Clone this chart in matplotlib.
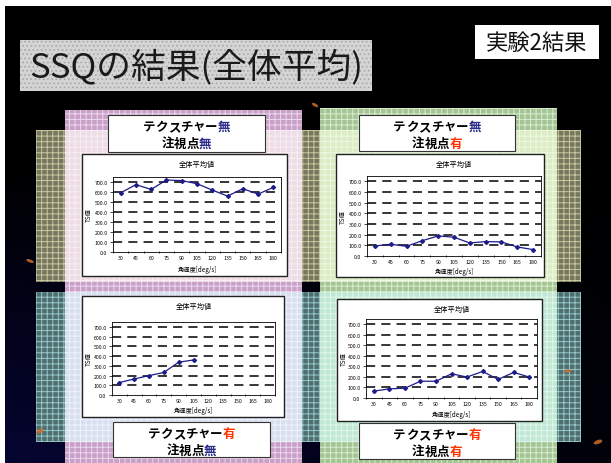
import numpy as np
import matplotlib.pyplot as plt
from matplotlib.patches import Rectangle, Ellipse

plt.rcParams['font.family'] = ['Noto Sans CJK JP', 'DejaVu Sans']
plt.rcParams['hatch.linewidth'] = 0.7

W, H = 611, 464

# 角速度ごとのTS値（全体平均）
speeds = [30, 45, 60, 75, 90, 105, 120, 135, 150, 165, 180]
ts_tex_no_gaze_no = [592, 673, 626, 720, 714, 683, 619, 559, 633, 579, 646]
ts_tex_no_gaze_yes = [94, 110, 91, 144, 188, 176, 122, 135, 132, 85, 60]
ts_tex_yes_gaze_no = [128, 165, 199, 232, 337, 360, np.nan, np.nan, np.nan, np.nan, np.nan]
ts_tex_yes_gaze_yes = [65, 87, 93, 159, 159, 230, 199, 252, 177, 243, 199]

y_ticks = [0, 100, 200, 300, 400, 500, 600, 700]

BLUE = '#2b2b8c'
RED = '#ff3300'
LINE = '#1c1c8a'

fig = plt.figure(figsize=(W / 100, H / 100), dpi=100)
bg = fig.add_axes([0, 0, 1, 1])
bg.set_xlim(0, W)
bg.set_ylim(H, 0)
bg.axis('off')

# 背景: 黒から左下に向かって濃紺
yy, xx = np.mgrid[0:H, 0:W]
t = np.clip((yy / H - 0.35) / 0.65, 0, 1) * np.clip(1 - xx / W * 0.8, 0, 1)
grad = np.dstack([0.02 * t, 0.02 * t, 0.2 * t])
bg.imshow(grad, extent=[0, W, H, 0], aspect='auto', zorder=0)
bg.add_patch(Rectangle((0, 0), W, 7, facecolor='white', lw=0, zorder=1))
bg.add_patch(Rectangle((0, 0), 5, H, facecolor='white', lw=0, zorder=1))


def rect(x0, y0, x1, y1, face, hatch_col=None, hatch='++', z=2, **kw):
    bg.add_patch(Rectangle((x0, y0), x1 - x0, y1 - y0, facecolor=face,
                           edgecolor=hatch_col if hatch_col else face,
                           hatch=hatch if hatch_col else None, lw=0, zorder=z, **kw))


# 横帯（上: オリーブ, 下: 青緑）
rect(36, 131, 581, 283, '#77775f', '#c8c8a0', '+++')
rect(36, 293, 581, 443, '#4f6e70', '#98c8c8', '+++')
# 縦帯（左: 紫, 右: 緑）
rect(65, 111, 302, 131, '#c8a0c8', '#ecd8ec', '+++')
rect(65, 283, 302, 293, '#c8a0c8', '#ecd8ec', '+++')
rect(65, 443, 302, 464, '#c8a0c8', '#ecd8ec', '+++')
rect(320, 109, 557, 131, '#a4c494', '#d8ecd0', '+++')
rect(320, 283, 557, 293, '#a4c494', '#d8ecd0', '+++')
rect(320, 443, 557, 464, '#a4c494', '#d8ecd0', '+++')
# 重なり部分
rect(65, 131, 302, 283, '#eedde6', '#f8eef4', '+++')
rect(320, 131, 557, 283, '#dcecc4', '#eef8e4', '+++')
rect(65, 293, 302, 443, '#d8e0f0', '#eef2fa', '+++')
rect(320, 293, 557, 443, '#c0e8d4', '#e2f6ec', '+++')

# 小さな飾り
for (ex, ey, ew, eh, ang) in [(315, 106, 7, 3, 30), (30, 262, 8, 3, 20),
                              (40, 432, 4, 8, 60), (598, 443, 4, 9, 70),
                              (568, 372, 3, 7, 80)]:
    bg.add_patch(Ellipse((ex, ey), ew, eh, angle=ang, facecolor='#d06a28',
                         lw=0, alpha=0.85, zorder=3))

# タイトル
rect(20, 41, 372, 92, '#d4d4d4', '#a8a8a8', '....', z=4)
bg.text(196, 67, 'SSQの結果(全体平均)', fontsize=25, color='#1a1a1a',
        ha='center', va='center', zorder=5)
bg.add_patch(Rectangle((475, 26), 124, 34, facecolor='white', lw=0, zorder=4))
bg.text(537, 43, '実験2結果', fontsize=16, color='#111111',
        ha='center', va='center', zorder=5)


def label_box(x0, y0, x1, y1, tex_mark, gaze_mark):
    bg.add_patch(Rectangle((x0, y0), x1 - x0, y1 - y0, facecolor='white',
                           edgecolor='#333333', lw=0.8, zorder=4))
    cx = (x0 + x1) / 2
    fs = 9
    em = fs * 100 / 72
    lines = [('テクスチャー', tex_mark), ('注視点', gaze_mark)]
    for row, (word, mark) in enumerate(lines):
        chars = list(word) + [mark]
        n = len(chars)
        yc = y0 + 11.5 + row * 17
        for i, ch in enumerate(chars):
            col = 'black'
            if i == n - 1:
                col = BLUE if ch == '無' else RED
            bg.text(cx + (i - (n - 1) / 2) * em, yc, ch, fontsize=fs,
                    fontweight='bold', color=col, ha='center', va='center',
                    zorder=5)


label_box(108, 116, 265, 153, '無', '無')
label_box(359, 116, 515, 152, '無', '有')
label_box(113, 423, 270, 458, '有', '無')
label_box(359, 424, 515, 460, '有', '有')


def chart(box, plot, values):
    bx0, by0, bx1, by1 = box
    px0, py0, px1, py1 = plot
    bg.add_patch(Rectangle((bx0, by0), bx1 - bx0, by1 - by0, facecolor='white',
                           edgecolor='#222222', lw=1.0, zorder=4))
    ax = fig.add_axes([px0 / W, 1 - py1 / H, (px1 - px0) / W, (py1 - py0) / H])
    x = np.arange(len(speeds))
    for v in y_ticks[1:]:
        ax.axhline(v, color='black', lw=1.1, dashes=(6, 4), zorder=1)
    ax.plot(x, values, color=LINE, lw=0.9, marker='D', ms=2.0, zorder=3)
    ax.set_xlim(-0.5, len(speeds) - 0.5)
    ax.set_ylim(0, 750)
    ax.set_yticks(y_ticks)
    ax.set_yticklabels([f'{v:.1f}' for v in y_ticks])
    ax.set_xticks(x)
    ax.set_xticklabels([str(s) for s in speeds])
    ax.set_xticks(np.arange(-0.5, len(speeds), 1.0), minor=True)
    ax.tick_params(axis='x', which='major', length=0, labelsize=3.8, pad=2.5)
    ax.tick_params(axis='x', which='minor', length=2, width=0.5, direction='inout')
    ax.tick_params(axis='y', length=2, width=0.5, labelsize=3.8, pad=2)
    for s in ax.spines.values():
        s.set_linewidth(0.6)
        s.set_color('black')
    cx = (px0 + px1) / 2
    opts = dict(ha='center', va='center', zorder=6)
    fig.text(cx / W, 1 - (by0 + 10) / H, '全体平均値', fontsize=5.2, **opts)
    fig.text(cx / W, 1 - (by1 - 6.5) / H, '角速度[deg/s]', fontsize=4.5, **opts)
    fig.text((bx0 + 7) / W, 1 - ((py0 + py1) / 2) / H, 'TS値', fontsize=4.5,
             rotation=90, **opts)
    return ax


chart((82, 155, 287, 277), (113, 178, 281, 253), ts_tex_no_gaze_no)
chart((336, 155, 544, 278), (367, 177, 541, 257), ts_tex_no_gaze_yes)
chart((82, 297, 284, 418), (112, 323, 275, 396), ts_tex_yes_gaze_no)
chart((337, 300, 542, 422), (366, 320, 537, 399), ts_tex_yes_gaze_yes)

fig.savefig('out.png', dpi=100, facecolor='black')
